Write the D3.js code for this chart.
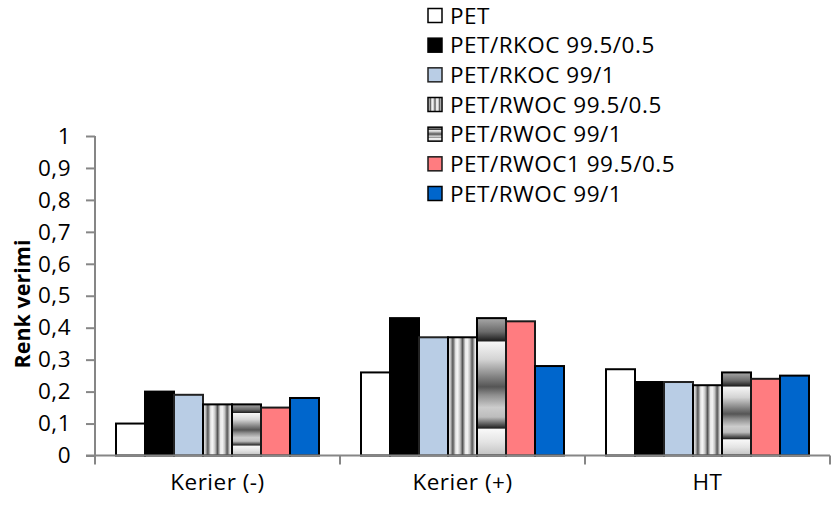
<!DOCTYPE html>
<html>
<head>
<meta charset="utf-8">
<script src="https://cdn.jsdelivr.net/npm/d3@7"></script>
<style>
  html, body { margin: 0; padding: 0; background: #fff; }
  svg { display: block; }
  text { font-family: "Open Sans", Lato, sans-serif; fill: #000; letter-spacing: 0.5px; }
</style>
</head>
<body>
<svg id="chart" width="831" height="506"></svg>
<script>
// Categories and series
const categories = ["Kerier (-)", "Kerier (+)", "HT"];
const seriesNames = [
  "PET",
  "PET/RKOC 99.5/0.5",
  "PET/RKOC 99/1",
  "PET/RWOC 99.5/0.5",
  "PET/RWOC 99/1",
  "PET/RWOC1 99.5/0.5",
  "PET/RWOC 99/1"
];
// values per series, one entry per category
const pet        = [0.10, 0.26, 0.27];
const rkoc995    = [0.20, 0.43, 0.23];
const rkoc991    = [0.19, 0.37, 0.23];
const rwoc995    = [0.16, 0.37, 0.22];
const rwoc991    = [0.16, 0.43, 0.26];
const rwoc1995   = [0.15, 0.42, 0.24];
const rwoc991b   = [0.18, 0.28, 0.25];
const seriesValues = [pet, rkoc995, rkoc991, rwoc995, rwoc991, rwoc1995, rwoc991b];
const yTicks = [0, 0.1, 0.2, 0.3, 0.4, 0.5, 0.6, 0.7, 0.8, 0.9, 1];
const yTitle = "Renk verimi";

const FS = 22.5;
const svg = d3.select("#chart");
const defs = svg.append("defs");

// Vertical grey stripes, three per shape
const vg = defs.append("linearGradient")
  .attr("id", "vstripe")
  .attr("x1", 0).attr("y1", 0).attr("x2", 0.3333).attr("y2", 0)
  .attr("spreadMethod", "repeat");
[[0, "#f4f4f4"], [0.25, "#c4c4c4"], [0.5, "#555555"], [0.65, "#9a9a9a"], [0.8, "#e8e8e8"], [1, "#f4f4f4"]]
  .forEach(([o, c]) => vg.append("stop").attr("offset", o).attr("stop-color", c));

// Horizontal grey bands
const hg = defs.append("linearGradient")
  .attr("id", "hstripe")
  .attr("x1", 0).attr("y1", 0).attr("x2", 0).attr("y2", 1);
[[0, "#a8a8a8"], [0.1, "#6a6a6a"], [0.165, "#1e1e1e"], [0.175, "#f6f6f6"], [0.3, "#d4d4d4"],
 [0.44, "#7a7a7a"], [0.5, "#555555"], [0.56, "#8e8e8e"], [0.65, "#cccccc"], [0.72, "#bdbdbd"],
 [0.78, "#4a4a4a"], [0.8, "#222222"], [0.81, "#f8f8f8"], [0.9, "#e4e4e4"], [1, "#c2c2c2"]]
  .forEach(([o, c]) => hg.append("stop").attr("offset", o).attr("stop-color", c));

const fills = ["#ffffff", "#000000", "#b9cde5", "url(#vstripe)", "url(#hstripe)", "#ff7c80", "#0066cc"];
const strokes = ["#000", "#000", "#222", "#000", "#000", "#1a1a1a", "#000"];

// Scales
const x0 = d3.scaleBand().domain(categories).range([95, 830]).paddingInner(0).paddingOuter(0);
const x1 = d3.scaleBand().domain(d3.range(seriesNames.length))
  .range([21, x0.bandwidth() - 21]).padding(0);
const y = d3.scaleLinear().domain([0, 1]).range([455.5, 136]);

const axisColor = "#868686";

// Bars
categories.forEach((cat, ci) => {
  const g = svg.append("g").attr("transform", `translate(${x0(cat)},0)`);
  seriesValues.forEach((vals, si) => {
    const v = vals[ci];
    g.append("rect")
      .attr("x", x1(si))
      .attr("y", y(v))
      .attr("width", x1.bandwidth())
      .attr("height", y(0) - y(v))
      .attr("fill", fills[si])
      .attr("stroke", strokes[si])
      .attr("stroke-width", 2);
  });
});

// Y axis
const yAxis = d3.axisLeft(y).tickValues(yTicks)
  .tickFormat(d => d3.format(".1~f")(d).replace(".", ","))
  .tickSize(9).tickPadding(15);
const gy = svg.append("g").attr("transform", "translate(95,0)").call(yAxis);
gy.select(".domain").attr("stroke", axisColor).attr("stroke-width", 2).attr("d", `M0,${y(1)}V${y(0)}`);
gy.selectAll(".tick line").attr("stroke", axisColor).attr("stroke-width", 2);
gy.selectAll(".tick text").attr("font-size", FS).attr("font-family", "'Open Sans', sans-serif").attr("fill", "#000");

// X axis with ticks at category boundaries
const gx = svg.append("g").attr("transform", `translate(0,${y(0)})`);
gx.append("line").attr("x1", 86).attr("x2", 830).attr("y1", 0).attr("y2", 0)
  .attr("stroke", axisColor).attr("stroke-width", 2);
const bounds = categories.map(c => x0(c)).concat([x0.range()[1]]);
gx.selectAll("line.tk").data(bounds).join("line").attr("class", "tk")
  .attr("x1", d => d).attr("x2", d => d).attr("y1", 0).attr("y2", 9)
  .attr("stroke", axisColor).attr("stroke-width", 2);
gx.selectAll("text").data(categories).join("text")
  .attr("x", d => x0(d) + x0.bandwidth() / 2)
  .attr("y", 34)
  .attr("text-anchor", "middle")
  .attr("font-size", FS)
  .text(d => d);

// Y title
svg.append("text")
  .attr("transform", `translate(30,304) rotate(-90)`)
  .attr("text-anchor", "middle")
  .attr("font-size", FS - 1)
  .attr("font-weight", "bold")
  .style("letter-spacing", "0px")
  .text(yTitle);

// Legend
const legend = svg.append("g").attr("transform", "translate(428,0)");
const rowY = d3.scaleLinear().domain([0, seriesNames.length - 1]).range([15.5, 193.5]);
seriesNames.forEach((name, i) => {
  const r = legend.append("g").attr("transform", `translate(0,${rowY(i)})`);
  r.append("rect").attr("x", 0).attr("y", -7).attr("width", 14).attr("height", 14)
    .attr("fill", fills[i]).attr("stroke", strokes[i]).attr("stroke-width", 1.5);
  r.append("text").attr("x", 22).attr("y", 8).attr("font-size", FS).text(name);
});
</script>
</body>
</html>
